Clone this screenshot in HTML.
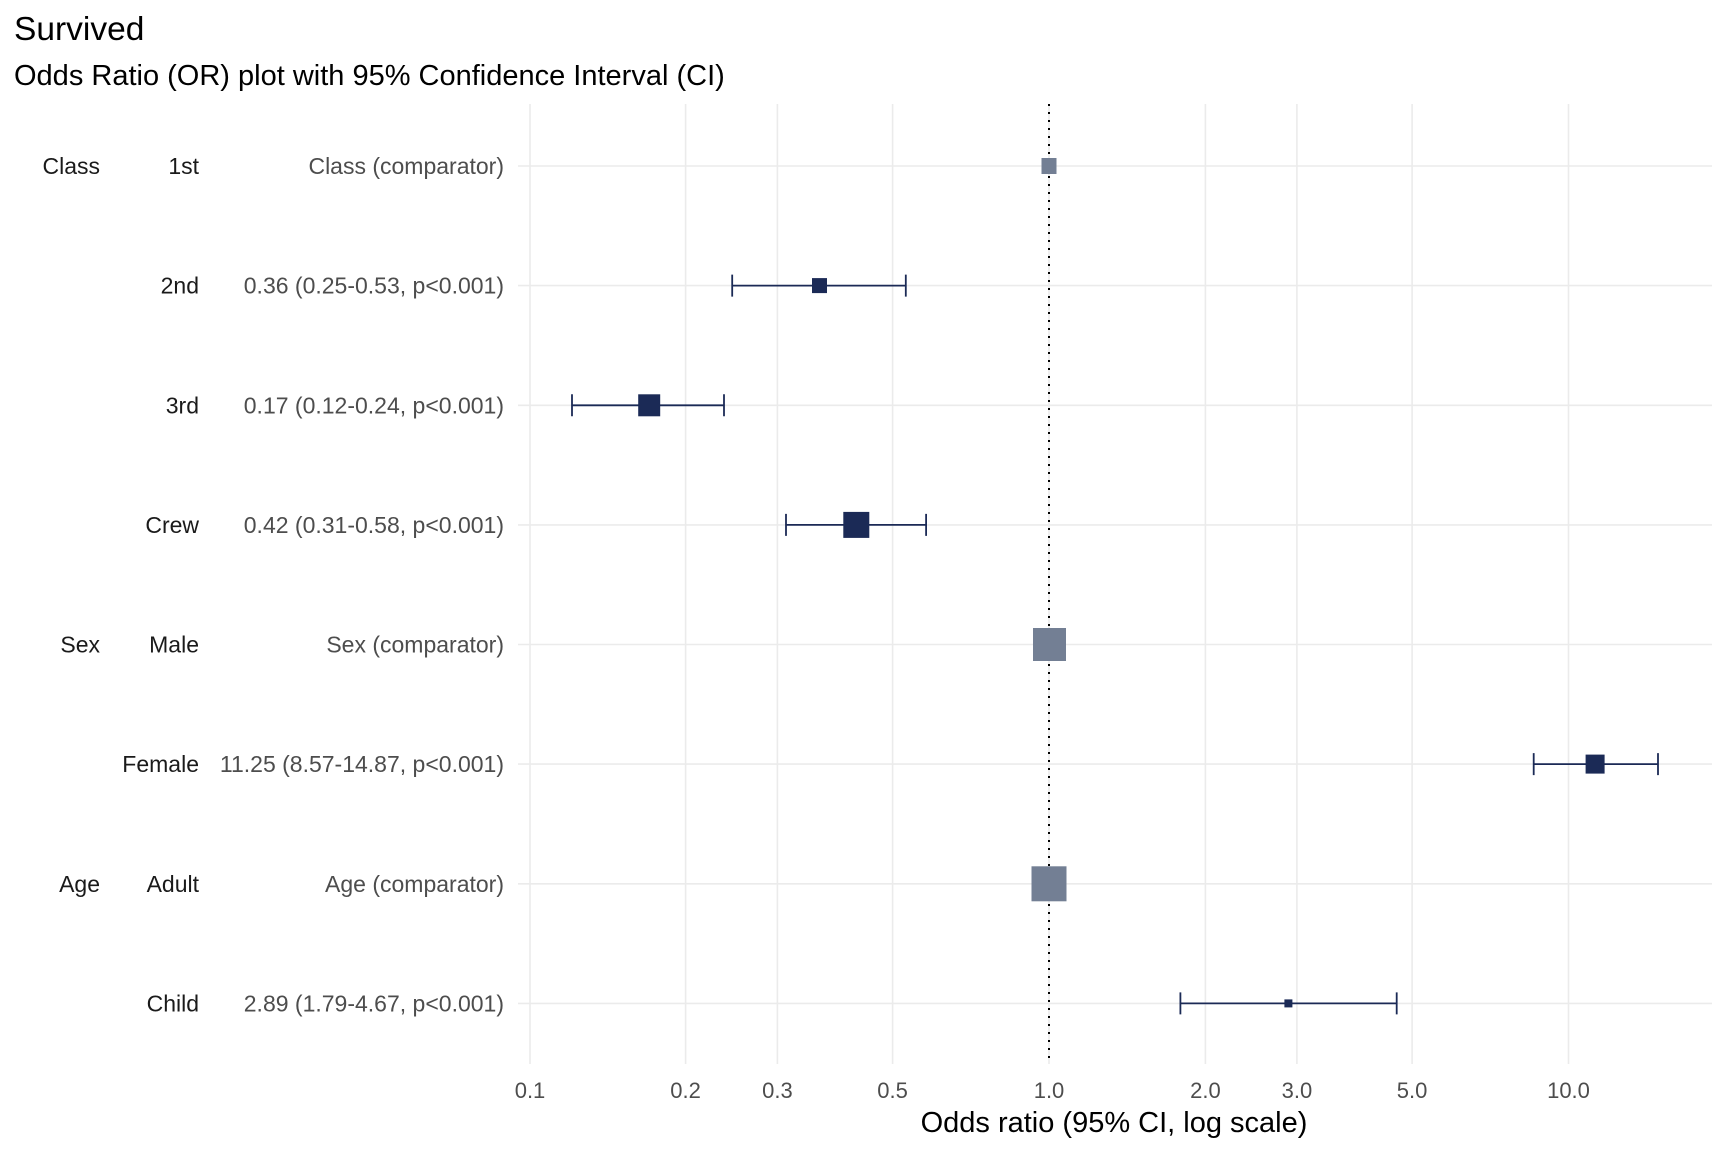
<!DOCTYPE html>
<html><head><meta charset="utf-8"><style>
html,body{margin:0;padding:0;background:#fff}
svg{display:block;font-family:"Liberation Sans",Arial,sans-serif}
</style></head><body>
<svg width="1728" height="1152" viewBox="0 0 1728 1152" xmlns="http://www.w3.org/2000/svg">
<rect width="1728" height="1152" fill="#fff"/>
<text x="14" y="40" font-size="33.5" fill="#000">Survived</text>
<text x="14" y="85" font-size="29" fill="#000">Odds Ratio (OR) plot with 95% Confidence Interval (CI)</text>
<g stroke="#ebebeb" stroke-width="1.6">
<line x1="530" y1="104" x2="530" y2="1064"/>
<line x1="685.6" y1="104" x2="685.6" y2="1064"/>
<line x1="777.4" y1="104" x2="777.4" y2="1064"/>
<line x1="892.6" y1="104" x2="892.6" y2="1064"/>
<line x1="1049" y1="104" x2="1049" y2="1064"/>
<line x1="1205.4" y1="104" x2="1205.4" y2="1064"/>
<line x1="1296.9" y1="104" x2="1296.9" y2="1064"/>
<line x1="1412.1" y1="104" x2="1412.1" y2="1064"/>
<line x1="1568.5" y1="104" x2="1568.5" y2="1064"/>
<line x1="518" y1="166" x2="1712" y2="166"/>
<line x1="518" y1="285.6" x2="1712" y2="285.6"/>
<line x1="518" y1="405.3" x2="1712" y2="405.3"/>
<line x1="518" y1="524.9" x2="1712" y2="524.9"/>
<line x1="518" y1="644.5" x2="1712" y2="644.5"/>
<line x1="518" y1="764.1" x2="1712" y2="764.1"/>
<line x1="518" y1="883.8" x2="1712" y2="883.8"/>
<line x1="518" y1="1003.4" x2="1712" y2="1003.4"/>
</g>
<line x1="1049" y1="104" x2="1049" y2="1064" stroke="#000" stroke-width="2" stroke-dasharray="2,6"/>
<g stroke="#1b2a56" stroke-width="1.8" fill="none">
<path d="M732.2 285.6H905.8M732.2 274.6V296.6M905.8 274.6V296.6"/>
<path d="M572 405.3H724M572 394.3V416.3M724 394.3V416.3"/>
<path d="M786 524.9H926.1M786 513.9V535.9M926.1 513.9V535.9"/>
<path d="M1533.7 764.1H1658M1533.7 753.1V775.1M1658 753.1V775.1"/>
<path d="M1180.4 1003.4H1396.7M1180.4 992.4V1014.4M1396.7 992.4V1014.4"/>
</g>
<g fill="#1b2a56">
<rect x="812" y="278.1" width="15" height="15"/>
<rect x="638.2" y="394.3" width="22" height="22"/>
<rect x="843.3" y="511.9" width="26" height="26"/>
<rect x="1585.6" y="754.6" width="19" height="19"/>
<rect x="1284.4" y="999.4" width="8" height="8"/>
</g>
<g fill="#737f94">
<rect x="1041.5" y="158" width="15" height="16"/>
<rect x="1033" y="628" width="33" height="33"/>
<rect x="1031.5" y="866.3" width="35" height="35"/>
</g>
<g font-size="23" fill="#1a1a1a" text-anchor="end">
<text x="100" y="174">Class</text>
<text x="100" y="652.5">Sex</text>
<text x="100" y="891.8">Age</text>
<text x="199" y="174">1st</text>
<text x="199" y="293.6">2nd</text>
<text x="199" y="413.3">3rd</text>
<text x="199" y="532.9">Crew</text>
<text x="199" y="652.5">Male</text>
<text x="199" y="772.1">Female</text>
<text x="199" y="891.8">Adult</text>
<text x="199" y="1011.4">Child</text>
</g>
<g font-size="23" fill="#4d4d4d" text-anchor="end">
<text x="504" y="174">Class (comparator)</text>
<text x="504" y="293.6">0.36 (0.25-0.53, p&lt;0.001)</text>
<text x="504" y="413.3">0.17 (0.12-0.24, p&lt;0.001)</text>
<text x="504" y="532.9">0.42 (0.31-0.58, p&lt;0.001)</text>
<text x="504" y="652.5">Sex (comparator)</text>
<text x="504" y="772.1">11.25 (8.57-14.87, p&lt;0.001)</text>
<text x="504" y="891.8">Age (comparator)</text>
<text x="504" y="1011.4">2.89 (1.79-4.67, p&lt;0.001)</text>
</g>
<g font-size="22" fill="#4d4d4d" text-anchor="middle">
<text x="530" y="1098">0.1</text>
<text x="685.6" y="1098">0.2</text>
<text x="777.4" y="1098">0.3</text>
<text x="892.6" y="1098">0.5</text>
<text x="1049" y="1098">1.0</text>
<text x="1205.4" y="1098">2.0</text>
<text x="1296.9" y="1098">3.0</text>
<text x="1412.1" y="1098">5.0</text>
<text x="1568.5" y="1098">10.0</text>
</g>
<text x="1114" y="1132" font-size="29" fill="#000" text-anchor="middle">Odds ratio (95% CI, log scale)</text>
</svg>
</body></html>
